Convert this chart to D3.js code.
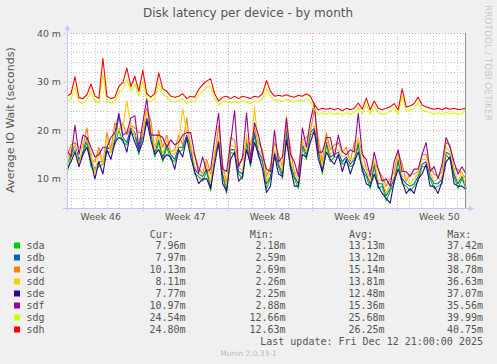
<!DOCTYPE html>
<html>
<head>
<meta charset="utf-8">
<script src="https://cdn.jsdelivr.net/npm/d3@7"></script>
<style>
  body { margin: 0; background: #f0f0f0; }
  svg { display: block; }
</style>
</head>
<body>
<div id="chart"></div>
<script>
// devices, colours and legend figures (as printed under the graph)
const devices = ["sda", "sdb", "sdc", "sdd", "sde", "sdf", "sdg", "sdh"];
const deviceColors = ["#00cc00", "#0066b3", "#ff8000", "#ffcc00", "#330099", "#990099", "#ccff00", "#ff0000"];
const curValues = ["7.96m", "7.97m", "10.13m", "8.11m", "7.77m", "10.97m", "24.54m", "24.80m"];
const minValues = ["2.18m", "2.59m", "2.69m", "2.26m", "2.25m", "2.88m", "12.66m", "12.63m"];
const avgValues = ["13.13m", "13.12m", "15.14m", "13.81m", "12.48m", "15.36m", "25.68m", "26.25m"];
const maxValues = ["37.42m", "38.06m", "38.78m", "36.63m", "37.07m", "35.56m", "39.99m", "40.75m"];

// y axis ticks (ms)
const yMajorTicks = [10, 20, 30, 40];
const yMinorTicks = [6, 8, 12, 14, 16, 18, 22, 24, 26, 28, 32, 34, 36, 38];

// time window of the month graph, 101 samples evenly spread over it
const startTime = Date.UTC(2025, 10, 10, 17);
const endTime = Date.UTC(2025, 11, 13, 17);

// IO wait per device, ms
const sda = [11,14.5,16,13.5,15,17.5,12.5,11.5,12.5,13,15.5,15.5,17,20,17.5,17,19.5,19,15,19,21.5,19.5,14.5,17.5,13.5,16.5,14,13.5,15.5,16,18,16,11,10.5,9.5,11.5,7.5,14.5,17,10.5,7,15.5,15,11,10,17.5,12.5,19,14.5,13.5,8,10,14.5,12.5,10,19.5,12,10,8,16.5,14,19,19.5,15.5,11,17,13.5,14.5,14.5,13,13.5,12.5,13,17,11.5,10.5,8,12.5,8,8.5,5.5,7.5,9,13.5,9,8.5,7.5,8.5,9.5,12.5,12.5,10,8,8.5,9,15,14,10.5,8,10,8];
const sdb = [13,15,17,14,15.5,18.5,13.5,12,13.5,13.5,16.5,16,18,23,18.5,17.5,20.5,19.5,16,19.5,22.5,20,15.5,18,14.5,17,15,14,16.5,16.5,19,16.5,12,11,10.5,12,8.5,15,18,11,8,16,16,11.5,11,18,13.5,19.5,15.5,14,9,10.5,15.5,13,11,20,13,10.5,9,17,15,19.5,20.5,16,12,17.5,14.5,15,15.5,13.5,14.5,13,14,17.5,12.5,11,9,13,9,9,6.5,8,10,14,10,9,8.5,9,10.5,13,13.5,10.5,9,9,10,15.5,15,11,9,10.5,8];
const sdc = [14.5,17,17.5,16.5,16.5,20.5,14,13.5,16.5,13,19.5,16,21.5,20,21.5,19,21,20.5,19.5,19.5,24.5,22,16,20,16.5,19,15.5,16,19,17,22.5,16,15,12.3,11,14,11,14.5,21,13,9,18.5,18,13,14,18,17,20.5,17.5,16,10.5,12.5,17.5,15,12.5,21,16.5,11,12,18,18.5,19.5,24.5,18,13.5,19.5,16,17,17.5,15.5,16.5,13.5,17.5,18,15.5,12,11.5,13.5,12,10.5,8.5,10,11.5,15.5,13,9.5,11,11,11.5,15,15,12.5,11,10.5,11.5,17.5,17,12,12,11,10.1];
const sdd = [13,16,17,12.5,17.5,18,15.5,11,15.5,13,18.5,15.5,19.5,20,20.5,26,21,19,18,19,24,20.5,16,19,15,18,15.5,15,17,24.5,19.5,17.5,12.5,11.5,11,13,9,15.5,18.5,12,8.5,17,16.5,12.5,11.5,19,14,24.8,16,15,9.5,11.5,16,14,11.5,23,13.5,11.5,9.5,18,15.5,20.5,21,17,12.5,18.5,15,16,16,14.5,15,14,14.5,18.5,13,12,9.5,14,9.5,10,7,9,10.5,15,10.5,10,9,10,11,14,14,11.5,9.5,10,10.5,16.5,15.5,12,9.5,11.5,8.1];
const sde = [12,13.5,15.5,12.5,15,16.5,13.5,10,13.5,11,16,14,17.5,18.5,18,15.5,20,17.5,15.5,17.5,22,18,15,16,14,15,14.5,12,16,14.5,18.5,14.5,11.5,9,10,10,8,13,17.5,9,7.5,14,15.5,9.5,10.5,16,13,17.5,15,12,7.2,8.5,15,11,10.5,18,12.5,8.5,8.5,15,14.5,17.5,20,14,11.5,15.5,14,13,15,11.5,14,11,13.5,15.5,12,9,8.5,11,8.5,7,6,5,9.5,12,9.5,7,8,7,10,11,13,8.5,8.5,7,9.5,13.5,14.5,9,8.5,8.5,7.8];
const sdf = [16,14.5,21,15,19,18.5,16.5,14.5,15,16.5,16.5,18.5,19.5,23.5,19,19.5,22.5,23,16.5,21.5,26.5,19,19,19,18.5,16.5,18,17,17.5,19,19.5,19.5,15,11.3,14.5,11.5,12,18,23.5,12,11.5,17.5,24,12.5,14.5,23.5,14,21.5,19,15,12,11.5,20,13.5,14.5,22.5,15,13.5,10.5,20.5,16.5,22,25.5,15.5,15.5,18.5,18.5,14.5,19,15.5,15,16,15.5,23.5,15,14,10.5,15.5,12,9.5,10,8.5,13.5,16,11.5,11.5,10.5,12,12,15,17.5,11.5,12.5,10,13,18.5,16.5,13.5,11,12.5,11];
const sdg = [26,26.3,29,25.8,25.5,26.3,27.8,26,25.6,31.5,26,25.6,25.8,27.8,28.5,30.5,28,29.5,27,30,26.5,25.8,26.5,29.8,27.5,26.8,26,25.8,26,26.5,25.5,26,25.8,27.2,28,28.8,29,26.5,25.2,25.8,26,25.6,26,25.6,26,25.8,25.5,26,25.8,26.4,28.5,27,26,26.2,26,26.3,26,25.8,26.2,26,26.5,26,24.3,23.3,23.6,23.4,23.6,23.3,23.6,23.1,23.6,23.3,23.6,24.6,23.4,25.4,23.3,25,23.6,23.3,23.6,23.9,24.5,23.3,27,23.9,24.1,24.5,25.6,24.2,23.9,23.6,23.4,23.6,23.3,23.7,23.4,23.6,23.3,23.4,24.5];
const sdh = [27,27.5,31,26.7,26.5,27.3,29.5,27,26.6,34.8,27,26.5,26.8,29,29.8,32.8,29,31.1,28,32.3,27.5,26.8,27.6,31.8,28.5,28,27,26.8,27,27.5,26.5,27,26.8,28.4,29.4,30.1,30.6,27.5,26,26.8,27,26.5,27,26.5,27,26.8,26.5,27,26.8,27.5,30.2,28,27,27.2,27,27.3,27,26.8,27.2,27,27.5,27,25.3,24.2,24.5,24.3,24.5,24.2,24.5,24,24.5,24.2,24.5,25.6,24.3,26.6,24.2,26,24.5,24.2,24.5,24.8,25.5,24.2,28.5,24.8,25,25.5,26.8,25.2,24.8,24.5,24.3,24.5,24.2,24.6,24.3,24.5,24.2,24.3,24.6];

const seriesList = [sda, sdb, sdc, sdd, sde, sdf, sdg, sdh];

//layout
const width = 497, height = 364;
const plot = { left: 67, right: 466, top: 33, bottom: 208 };
const textColor = "#555";

const svg = d3.select("#chart").append("svg")
    .attr("width", width)
    .attr("height", height);

svg.append("rect")
    .attr("width", width).attr("height", height)
    .attr("fill", "#f0f0f0");

const x = d3.scaleUtc()
    .domain([new Date(startTime), new Date(endTime)])
    .range([plot.left, plot.right]);

const y = d3.scaleLinear()
    .domain([4, 40])
    .range([plot.bottom, plot.top]);

// white canvas
svg.append("rect")
    .attr("x", plot.left).attr("y", plot.top)
    .attr("width", plot.right - plot.left).attr("height", plot.bottom - plot.top)
    .attr("fill", "#fff");

const grid = svg.append("g").attr("shape-rendering", "crispEdges");

// minor grid - days and 2m steps
const mondays = d3.utcMonday.range(x.domain()[0], x.domain()[1]);
const days = d3.utcDay.range(x.domain()[0], x.domain()[1])
    .filter(d => d.getUTCDay() !== 1);

grid.selectAll(".vmin").data(days).enter().append("line")
    .attr("x1", d => Math.round(x(d)) + 0.5).attr("x2", d => Math.round(x(d)) + 0.5)
    .attr("y1", plot.top).attr("y2", plot.bottom + 2)
    .attr("stroke", "#c8c8c8").attr("stroke-dasharray", "1,2");

grid.selectAll(".hmin").data(yMinorTicks).enter().append("line")
    .attr("x1", plot.left - 3).attr("x2", plot.right)
    .attr("y1", d => Math.round(y(d)) + 0.5).attr("y2", d => Math.round(y(d)) + 0.5)
    .attr("stroke", "#c8c8c8").attr("stroke-dasharray", "1,2");

// major grid - week starts and every 10m
grid.selectAll(".vmaj").data(mondays).enter().append("line")
    .attr("x1", d => Math.round(x(d)) + 0.5).attr("x2", d => Math.round(x(d)) + 0.5)
    .attr("y1", plot.top).attr("y2", plot.bottom + 3)
    .attr("stroke", "#f2a0a0").attr("stroke-dasharray", "1,2");

grid.selectAll(".hmaj").data(yMajorTicks).enter().append("line")
    .attr("x1", plot.left - 3).attr("x2", plot.right)
    .attr("y1", d => Math.round(y(d)) + 0.5).attr("y2", d => Math.round(y(d)) + 0.5)
    .attr("stroke", "#f2a0a0").attr("stroke-dasharray", "1,2");

// y labels
svg.selectAll(".ylab").data(yMajorTicks).enter().append("text")
    .attr("x", 61).attr("y", d => y(d) + 3.5)
    .attr("text-anchor", "end")
    .attr("font-family", "DejaVu Sans").attr("font-size", 9.4)
    .attr("fill", textColor)
    .text(d => d + " m");

// week labels, centred in the week
const weekFmt = d3.utcFormat("%V");
const weekStarts = [d3.utcMonday.offset(mondays[0], -1)].concat(mondays)
    .filter(d => {
        const mid = new Date(+d + 3.5 * 864e5);
        return mid > x.domain()[0] && mid < x.domain()[1];
    });
svg.selectAll(".xlab").data(weekStarts).enter().append("text")
    .attr("x", d => x(new Date(+d + 3.5 * 864e5)))
    .attr("y", 220)
    .attr("text-anchor", "middle")
    .attr("font-family", "DejaVu Sans").attr("font-size", 9.4)
    .attr("fill", textColor)
    .text(d => "Week " + weekFmt(d));

// the series, sda first so sdh ends on top
seriesList.forEach((s, k) => {
    const step = (endTime - startTime) / (s.length - 1);
    svg.append("path")
        .datum(s)
        .attr("d", d3.line()
            .x((d, i) => x(new Date(startTime + i * step)))
            .y(d => y(d)))
        .attr("fill", "none")
        .attr("stroke", deviceColors[k])
        .attr("stroke-width", 1.1)
        .attr("stroke-linejoin", "round");
});

// axes with arrows
const axisColor = "#c4c4f4";
const axes = svg.append("g").attr("shape-rendering", "crispEdges");
axes.append("line")
    .attr("x1", plot.left + 0.5).attr("x2", plot.left + 0.5)
    .attr("y1", plot.bottom + 3).attr("y2", plot.top - 4)
    .attr("stroke", axisColor);
axes.append("line")
    .attr("x1", plot.left - 4).attr("x2", plot.right + 4)
    .attr("y1", plot.bottom + 0.5).attr("y2", plot.bottom + 0.5)
    .attr("stroke", axisColor);
svg.append("path")
    .attr("d", `M${plot.left - 2},${plot.top - 3} L${plot.left + 0.5},${plot.top - 8} L${plot.left + 3},${plot.top - 3} Z`)
    .attr("fill", axisColor);
svg.append("path")
    .attr("d", `M${plot.right + 3},${plot.bottom - 2} L${plot.right + 8},${plot.bottom + 0.5} L${plot.right + 3},${plot.bottom + 3} Z`)
    .attr("fill", axisColor);

// right frame line
axes.append("line")
    .attr("x1", plot.right - 0.5).attr("x2", plot.right - 0.5)
    .attr("y1", plot.top).attr("y2", plot.bottom)
    .attr("stroke", "#8c8c8c");

// titles
svg.append("text")
    .attr("x", 248).attr("y", 17)
    .attr("text-anchor", "middle")
    .attr("font-family", "DejaVu Sans").attr("font-size", 12)
    .attr("fill", textColor)
    .text("Disk latency per device - by month");

svg.append("text")
    .attr("transform", "translate(14,120) rotate(-90)")
    .attr("text-anchor", "middle")
    .attr("font-family", "DejaVu Sans").attr("font-size", 11)
    .attr("fill", textColor)
    .text("Average IO Wait (seconds)");

svg.append("text")
    .attr("transform", "translate(485,5) rotate(90)")
    .attr("font-family", "DejaVu Sans").attr("font-size", 9)
    .attr("fill", "#c8c8c8")
    .text("RRDTOOL / TOBI OETIKER");

// legend
const mono = "DejaVu Sans Mono";
const headers = [["Cur:", 149.7], ["Min:", 249.7], ["Avg:", 349], ["Max:", 447.3]];
svg.selectAll(".hdr").data(headers).enter().append("text")
    .attr("x", d => d[1]).attr("y", 237.5)
    .attr("font-family", mono).attr("font-size", 10)
    .attr("fill", textColor)
    .text(d => d[0]);

const rows = svg.selectAll(".row").data(devices).enter().append("g")
    .attr("transform", (d, i) => `translate(0,${249 + i * 12})`);
rows.append("rect")
    .attr("x", 14).attr("y", -6.5).attr("width", 6).attr("height", 6)
    .attr("fill", (d, i) => deviceColors[i]);
rows.append("text")
    .attr("x", 26.5)
    .attr("font-family", mono).attr("font-size", 10).attr("fill", textColor)
    .text(d => d);
const cols = [[curValues, 185.5], [minValues, 285.5], [avgValues, 384.5], [maxValues, 483]];
cols.forEach(c => {
    rows.append("text")
        .attr("x", c[1]).attr("text-anchor", "end")
        .attr("font-family", mono).attr("font-size", 10).attr("fill", textColor)
        .text((d, i) => c[0][i]);
});

svg.append("text")
    .attr("x", 483).attr("y", 345)
    .attr("text-anchor", "end")
    .attr("font-family", mono).attr("font-size", 10)
    .attr("fill", textColor)
    .text("Last update: Fri Dec 12 21:00:00 2025");

svg.append("text")
    .attr("x", 248.5).attr("y", 356)
    .attr("text-anchor", "middle")
    .attr("font-family", "DejaVu Sans").attr("font-size", 7.5)
    .attr("fill", "#bbb")
    .text("Munin 2.0.33-1");
</script>
</body>
</html>
